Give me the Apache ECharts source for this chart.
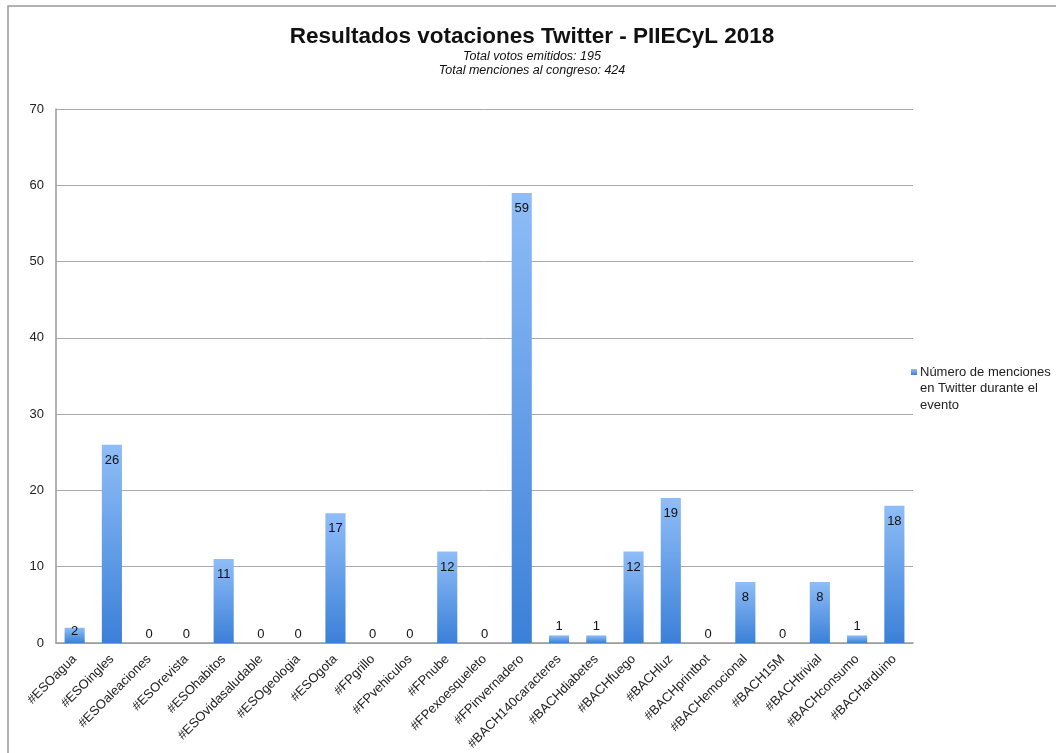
<!DOCTYPE html>
<html><head><meta charset="utf-8">
<script src="https://cdn.jsdelivr.net/npm/echarts@6/dist/echarts.min.js"></script>
<style>html,body{margin:0;padding:0;background:#fff}#c{width:1056px;height:753px}</style>
</head><body><div id="c"></div>
<script>
const categories = ['#ESOagua','#ESOingles','#ESOaleaciones','#ESOrevista','#ESOhabitos','#ESOvidasaludable','#ESOgeologia','#ESOgota','#FPgrillo','#FPvehiculos','#FPnube','#FPexoesqueleto','#FPinvernadero','#BACH140caracteres','#BACHdiabetes','#BACHfuego','#BACHluz','#BACHprintbot','#BACHemocional','#BACH15M','#BACHtrivial','#BACHconsumo','#BACHarduino'];
const values = [2,26,0,0,11,0,0,17,0,0,12,0,59,1,1,12,19,0,8,0,8,1,18];
const yTicks = [0,10,20,30,40,50,60,70];
const seriesName = 'Número de menciones\nen Twitter durante el\nevento';

const FONT = 'Liberation Sans, Arial, sans-serif';
const chart = echarts.init(document.getElementById('c'));
const grad = new echarts.graphic.LinearGradient(0,0,0,1,[
  {offset:0,color:'#8fbdf7'},{offset:1,color:'#3b80d8'}]);
const data = values.map(v => ({
  value: v,
  label: v >= 3 ? {position:'insideTop', distance: 9} : (v === 2 ? {position:'insideTop', distance: -3} : {position:'top', distance: 2})
}));
chart.setOption({
  animation:false,
  backgroundColor:'#fff',
  title:{
    text:'Resultados votaciones Twitter - PIIECyL 2018',
    subtext:'Total votos emitidos: 195\nTotal menciones al congreso: 424',
    left:527, textAlign:'center', top:20,
    itemGap:2,
    textStyle:{fontFamily:FONT,fontSize:22.5,fontWeight:'bold',color:'#111'},
    subtextStyle:{fontFamily:FONT,fontSize:12.5,fontStyle:'italic',color:'#111',lineHeight:14}
  },
  legend:{
    orient:'vertical', left:909, top:364, padding:0,
    itemWidth:6, itemHeight:6, itemGap:4,
    itemStyle:{opacity:0},
    textStyle:{fontFamily:FONT,fontSize:13,color:'#222',lineHeight:16.5},
    data:[seriesName]
  },
  grid:{left:56,right:143,top:109,bottom:110},
  xAxis:{
    type:'category', data:categories,
    axisLine:{lineStyle:{color:'#999',width:1.5}},
    axisTick:{show:false},
    axisLabel:{rotate:45, interval:0, fontFamily:FONT,fontSize:13,color:'#222',margin:14}
  },
  yAxis:{
    type:'value', min:yTicks[0], max:yTicks[yTicks.length-1], interval:10,
    axisLine:{show:true,lineStyle:{color:'#999',width:1.5}},
    axisTick:{show:false},
    splitLine:{lineStyle:{color:'#aaa',width:1}},
    axisLabel:{fontFamily:FONT,fontSize:13,color:'#222',margin:12}
  },
  graphic:[
    {type:'polyline',shape:{points:[[8,753],[8,6],[1056,6]]},style:{stroke:'#999',lineWidth:1.5,fill:null},silent:true},
    {type:'rect',shape:{x:911,y:369,width:6,height:6},style:{fill:new echarts.graphic.LinearGradient(0,0,0,1,[{offset:0,color:'#8fbdf7'},{offset:1,color:'#3b80d8'}])},silent:true}
  ],
  series:[{
    name:seriesName, type:'bar', data:data, barWidth:'54%',
    itemStyle:{color:grad},
    label:{show:true,fontFamily:FONT,fontSize:13,color:'#111'}
  }]
});
</script></body></html>
